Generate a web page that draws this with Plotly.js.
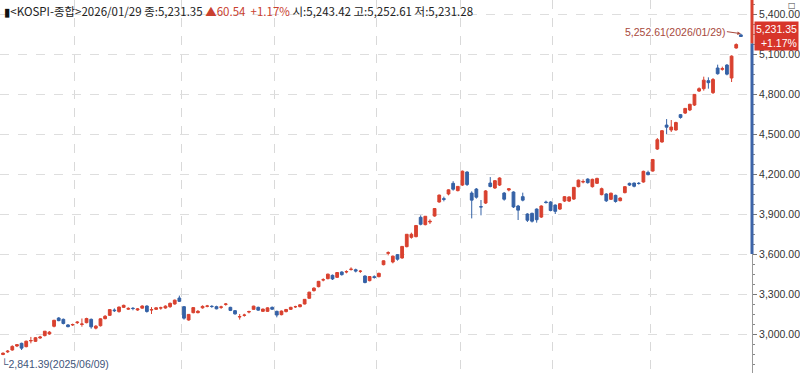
<!DOCTYPE html>
<html>
<head>
<meta charset="utf-8">
<script src="https://cdn.plot.ly/plotly-3.0.1.min.js"></script>
<style>
html,body{margin:0;padding:0;background:#fff;}
#chart{width:800px;height:373px;}
</style>
</head>
<body>
<div id="chart"></div>
<script>
// ---- data (KOSPI daily, 2025/06/09 .. 2026/01/29) ----
const openP = [
2846,2866,2880,2910,2930,2905,2948,2945,2970,2988,3000,3058,3120,3110,3068,3068,
3085,3072,3085,3110,3044,3062,3115,3140,3180,3168,3200,3186,3193,3180,3194,3210,3180,3185,3195,3195,3205,3225,3270,
3205,3105,3160,3160,3196,3208,3208,3205,3200,3222,3200,3175,3128,3140,3165,3185,3200,3170,3170,3200,
3170,3145,3168,3185,3204,3205,3225,3268,3325,3355,3405,3415,3440,3425,3465,3465,3484,3482,3470,3435,3400,3430,
3430,3520,3605,3540,3595,3570,3655,3725,3730,3875,3820,3840,3885,3990,4015,4050,4130,4075,
4117,4215,4057,4087,3955,3982,4132,4095,4117,4057,4080,4065,3960,4030,3900,3905,3937,3877,3990,3990,
3967,3937,3997,3997,4012,4105,4140,4162,4105,4130,4045,4050,4010,4040,4000,4060,4130,4132,4130,4140,4212,
4222,4387,4440,4567,4530,4530,4645,4657,4680,4717,4822,4840,4900,4810,4995,4985,5017,4920,5145,5243.42];
const highP = [
2862,2880,2915,2925,2935,2950,2978,2977,2986,3022,3022,3106,3126,3116,3074,3078,
3096,3116,3122,3116,3066,3118,3142,3186,3192,3206,3220,3200,3202,3195,3215,3215,3202,3200,3205,3215,3236,3258,3288,
3210,3150,3200,3180,3215,3218,3216,3212,3212,3232,3204,3180,3150,3152,3175,3212,3205,3190,3200,3206,
3175,3176,3188,3204,3212,3224,3262,3316,3350,3398,3418,3452,3446,3464,3470,3478,3500,3490,3480,3440,3434,3440,
3460,3552,3620,3588,3600,3660,3750,3760,3816,3890,3885,3860,3945,4045,4030,4085,4146,4110,
4226,4220,4070,4095,4005,4080,4177,4155,4175,4065,4095,4070,3968,4060,3906,3910,3942,3965,4000,3996,
3972,3982,4035,4032,4102,4158,4160,4168,4165,4172,4098,4056,4060,4045,4025,4108,4135,4136,4140,4225,4225,
4312,4470,4528,4612,4605,4592,4650,4695,4726,4800,4850,4930,4925,4920,5020,5005,5025,5090,5180,5252.61];
const lowP = [
2841.39,2858,2875,2902,2880,2900,2930,2940,2964,2982,2994,3050,3096,3072,3050,3060,
3075,3055,3080,3040,3035,3056,3110,3135,3165,3160,3195,3180,3178,3174,3190,3160,3150,3180,3182,3190,3196,3220,3240,
3108,3100,3155,3155,3190,3200,3196,3185,3188,3212,3172,3145,3108,3130,3155,3182,3175,3165,3166,3180,
3125,3140,3162,3180,3195,3200,3222,3265,3318,3350,3395,3410,3405,3420,3438,3455,3475,3462,3458,3380,3395,3415,
3425,3515,3590,3530,3550,3565,3650,3715,3725,3815,3815,3825,3880,3985,3995,4040,4075,4070,
4110,4110,3867,4015,3890,3975,4100,4088,4110,4000,4070,3945,3855,3995,3840,3836,3835,3870,3978,3920,
3900,3930,3990,3990,4005,4100,4130,4128,4098,4125,4040,3990,4005,3985,3995,4055,4110,4100,4120,4135,4190,
4218,4380,4435,4500,4515,4525,4615,4650,4672,4710,4815,4825,4840,4800,4945,4975,4940,4890,5140,5231.28];
const closeP = [
2856,2871,2907,2920,2894,2946,2951,2972,2977,3021,3014,3103,3100,3079,3055,3071,
3089,3075,3116,3054,3059,3114,3133,3183,3175,3202,3215,3192,3191,3188,3210,3169,3183,3196,3196,3209,3230,3254,3245,
3119,3147,3198,3170,3207,3210,3206,3189,3203,3225,3177,3151,3130,3142,3168,3209,3179,3187,3196,3186,
3142,3172,3184,3200,3205,3219,3260,3314,3344,3395,3407,3449,3413,3461,3445,3468,3486,3472,3471,3386,3431,3424,
3455,3549,3610,3584,3561,3657,3748,3748,3814,3823,3883,3845,3941,4042,4010,4081,4086,4107,
4221,4121,4004,4026,3953,4073,4106,4150,4170,4011,4089,3953,3929,4004,3853,3846,3857,3960,3986,3926,
3920,3977,4030,4028,4100,4154,4143,4135,4160,4167,4090,3999,4056,3994,4020,4105,4117,4108,4129,4220,4195,
4309,4457,4525,4551,4552,4586,4624,4692,4723,4797,4840,4904,4885,4909,4952,4990,4949,5084,5170.81,5231.35];

// first trading day of each month (Jul'25 .. Jan'26), as candle index
const monthStartIdx = [16, 39, 59, 81, 99, 119, 140];
const yTicks = [3000, 3300, 3600, 3900, 4200, 4500, 4800, 5100, 5400];
const yRange = [2707.5, 5505];
const xRange = [-0.65, 161.4];
const lowInfo = {idx: 0, value: 2841.39, date: '2025/06/09'};
const highInfo = {idx: 159, value: 5252.61, date: '2026/01/29'};
const lastClose = 5231.35, lastChgPct = '+1.17%';
const axisBlueFrom = 3600, axisRedFrom = 5180;

const idx = openP.map((_, i) => i);

const RED = '#d9412f', BLUE = '#3562a6';
const FONT = '"Noto Sans CJK KR", "DejaVu Sans", sans-serif';
const NUMFONT = '"Liberation Sans", Arial, sans-serif';

const trace = {
  type: 'candlestick',
  x: idx, open: openP, high: highP, low: lowP, close: closeP,
  increasing: {line: {color: RED, width: 1}, fillcolor: RED},
  decreasing: {line: {color: BLUE, width: 1}, fillcolor: BLUE},
  whiskerwidth: 0,
  hoverinfo: 'skip'
};

const header = '<span style="color:#111">▮</span><KOSPI-종합>2026/01/29 종:5,231.35 ' +
  '<span style="color:#c9402f">▲60.54  +1.17%</span> 시:5,243.42 고:5,252.61 저:5,231.28';

const fmt = v => v.toLocaleString('en-US', {minimumFractionDigits: 2, maximumFractionDigits: 2});

const layout = {
  width: 800, height: 373,
  margin: {l: 0, r: 48, t: 0, b: 0},
  paper_bgcolor: '#fff', plot_bgcolor: '#fff',
  showlegend: false,
  boxgap: 0.15,
  font: {family: FONT, size: 11, color: '#333'},
  xaxis: {
    range: xRange, rangeslider: {visible: false},
    tickvals: monthStartIdx.map(v => v - 0.5), showticklabels: false, ticks: '',
    showgrid: true, gridcolor: '#d9d9d9', griddash: 'dash', gridwidth: 1,
    zeroline: false, showline: false, fixedrange: true
  },
  yaxis: {
    side: 'right', range: yRange,
    tickvals: yTicks, tickformat: ',.2f',
    ticks: 'outside', ticklen: 4, tickcolor: '#777',
    minor: {dtick: 75, ticks: 'outside', ticklen: 2, tickcolor: '#888', showgrid: false},
    showgrid: true, gridcolor: '#dedede', griddash: 'dash', gridwidth: 1,
    showline: true, linecolor: '#999', linewidth: 1,
    zeroline: false, tickfont: {family: NUMFONT, size: 10.5, color: '#333'}, fixedrange: true
  },
  shapes: [
    {type: 'line', xref: 'paper', yref: 'y', x0: 1, x1: 1, y0: axisBlueFrom, y1: axisRedFrom,
     line: {color: '#3d64a8', width: 3}},
    {type: 'line', xref: 'paper', yref: 'y', x0: 1, x1: 1, y0: axisRedFrom, y1: yRange[1],
     line: {color: '#d9412f', width: 3}}
  ],
  annotations: [
    {xref: 'paper', yref: 'paper', x: 0, y: 1, xanchor: 'left', yanchor: 'top', xshift: 2, yshift: -1,
     text: header, showarrow: false, font: {family: FONT, size: 11.5, color: '#222'}},
    {xref: 'x', yref: 'y', x: highInfo.idx, y: highInfo.value,
     text: fmt(highInfo.value) + '(' + highInfo.date + ')',
     showarrow: true, arrowhead: 2, arrowsize: 0.7, arrowwidth: 1, arrowcolor: '#a8493c',
     ax: -14, ay: -2, xanchor: 'right', yanchor: 'middle',
     font: {family: NUMFONT, size: 10.5, color: '#a8493c'}},
    {xref: 'x', yref: 'y', x: lowInfo.idx, y: lowInfo.value,
     text: '└' + fmt(lowInfo.value) + '(' + lowInfo.date + ')',
     showarrow: false, xanchor: 'left', yanchor: 'top', xshift: -4, yshift: -1,
     font: {family: NUMFONT, size: 10.5, color: '#42557a'}},
    {xref: 'paper', yref: 'y', x: 1, y: lastClose, xanchor: 'left', yanchor: 'middle', xshift: 2,
     text: fmt(lastClose) + '<br>' + lastChgPct, showarrow: false, align: 'right',
     bgcolor: '#d7352a', borderpad: 1,
     font: {family: NUMFONT, size: 10.5, color: '#fff'}},
    {xref: 'paper', yref: 'paper', x: 1, y: 1, xanchor: 'left', yanchor: 'top', xshift: 34, yshift: 1,
     text: '□', showarrow: false, font: {family: 'DejaVu Sans', size: 8, color: '#444'}}
  ]
};

Plotly.newPlot('chart', [trace], layout, {displayModeBar: false, staticPlot: true});
</script>
</body>
</html>
